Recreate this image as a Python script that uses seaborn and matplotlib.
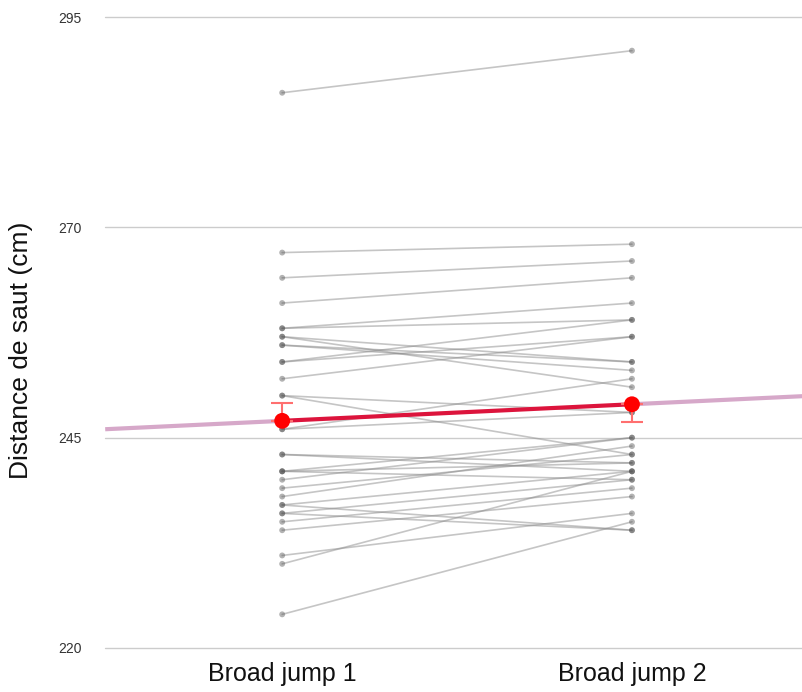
import numpy as np
import pandas as pd
import matplotlib
matplotlib.use("Agg")
import matplotlib.pyplot as plt
import seaborn as sns

categories = ["Broad jump 1", "Broad jump 2"]
jump1 = [286, 267, 264, 261, 258, 258, 257, 257, 256, 256, 254, 254, 252, 250, 250,
         246, 246, 243, 243, 241, 241, 241, 240, 239, 238, 237, 237, 236, 236, 235,
         234, 231, 230, 224]
jump2 = [291, 268, 266, 264, 261, 259, 254, 251, 253, 254, 259, 257, 257, 248, 243,
         252, 248, 242, 241, 245, 242, 240, 245, 243, 244, 241, 234, 240, 234, 239,
         238, 236, 241, 235]
y_ticks = [220, 245, 270, 295]
y_label = "Distance de saut (cm)"

sns.set_theme(style="white")
plt.rcParams["font.family"] = ["Liberation Sans", "DejaVu Sans"]

n = len(jump1)
df = pd.DataFrame({
    "subject": list(range(n)) * 2,
    "cond": [0] * n + [1] * n,
    "value": jump1 + jump2,
})

fig = plt.figure(figsize=(8.03, 6.92), dpi=100)
ax = fig.add_axes([0.131, 0.0636, 0.869, 0.9118])

for yt in y_ticks:
    ax.axhline(yt, color="#cccccc", lw=1.0, zorder=0, clip_on=False)

sns.lineplot(data=df, x="cond", y="value", units="subject", estimator=None,
             color="#8c8c8c", alpha=0.5, lw=1.2, ax=ax, legend=False, zorder=2)
sns.scatterplot(data=df, x="cond", y="value", color="#555555", alpha=0.45,
                s=18, edgecolor="none", ax=ax, legend=False, zorder=3)

m = df.groupby("cond")["value"].mean()
se = df.groupby("cond")["value"].sem()
xs = np.array([0, 1])
ys = m.values
slope = ys[1] - ys[0]
xl, xr = -0.506, 1.489
ax.plot([xl, 0], [ys[0] + slope * xl, ys[0]], color="#d6a8c9", lw=3, zorder=4,
        solid_capstyle="butt")
ax.plot([1, xr], [ys[1], ys[0] + slope * xr], color="#d6a8c9", lw=3, zorder=4,
        solid_capstyle="butt")
ax.plot(xs, ys, color="#dc143c", lw=3, zorder=5)
ax.errorbar([0], [ys[0]], yerr=[[0], [se.values[0]]], fmt="none",
            ecolor="#ff6f6f", elinewidth=1.5, capsize=8, capthick=1.5, zorder=5)
ax.errorbar([1], [ys[1]], yerr=[[se.values[1]], [0]], fmt="none",
            ecolor="#ff6f6f", elinewidth=1.5, capsize=8, capthick=1.5, zorder=5)
ax.scatter(xs, ys, color="#ff0000", s=130, zorder=6, edgecolor="none")

ax.set_xlim(xl, xr)
ax.set_ylim(220, 295)
ax.set_xticks([0, 1])
ax.set_xticklabels(categories, fontsize=18, color="#111111")
ax.set_yticks(y_ticks)
ax.set_yticklabels([str(v) for v in y_ticks], fontsize=10, color="#333333")
ax.tick_params(axis="y", length=0, pad=17)
ax.tick_params(axis="x", length=0, pad=10)
ax.set_xlabel("")
ax.set_ylabel(y_label, fontsize=19, color="#111111")
ax.yaxis.set_label_coords(-0.103, 0.472)
for s in ax.spines.values():
    s.set_visible(False)

fig.savefig("out.png", dpi=100)
